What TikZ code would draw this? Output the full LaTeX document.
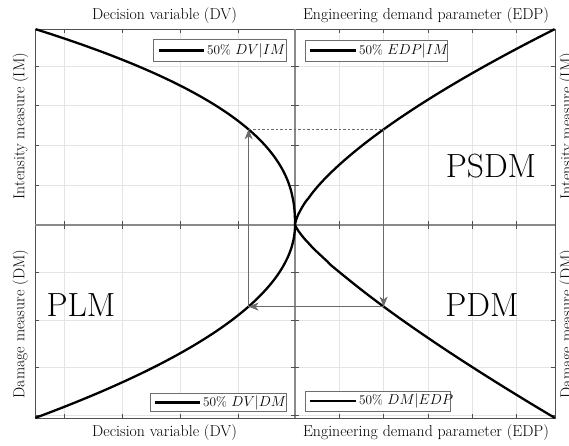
\documentclass[tikz,border=0pt]{standalone}
\usetikzlibrary{arrows.meta}
\definecolor{gridc}{HTML}{E4E4E4}
\definecolor{framec}{HTML}{505050}
\definecolor{axc}{HTML}{8A8A8A}
\definecolor{arrc}{HTML}{6A6A6A}
\definecolor{legc}{HTML}{6E6E6E}
\begin{document}
\begin{tikzpicture}[x=1pt,y=-1pt,
  gridline/.style={draw=gridc,line width=0.5pt},
  frameline/.style={draw=framec,line width=0.6pt},
  centerline/.style={draw=axc,line width=1.3pt},
  curve/.style={draw=black,line width=2.3pt},
  legline/.style={draw=black,line width=2.8pt},
  arr/.style={draw=arrc,line width=0.8pt,-{Stealth[length=10pt,width=8pt,inset=3pt]}},
  dashline/.style={draw=arrc,line width=0.6pt,dash pattern=on 2.5pt off 2pt},
  legbox/.style={draw=legc,fill=white,line width=0.6pt,inner sep=0pt},
  legtext/.style={anchor=west,inner sep=0pt,font=\fontsize{13.3}{15}\selectfont},
  axlabel/.style={inner sep=0pt,font=\fontsize{15.8}{18}\selectfont},
  biglabel/.style={inner sep=0pt,font=\fontsize{33.5}{38}\selectfont}]
\useasboundingbox (0,0) rectangle (569,445);
% grid
\foreach \gx in {64,122,180,238,339.5,383.6,428,472,516}
  \draw[gridline] (\gx,29) -- (\gx,418);
\foreach \gy in {66,105.5,145,185,272.5,320,367.5,415.5}
  \draw[gridline] (35,\gy) -- (555,\gy);
% frame
\draw[frameline] (35,29) rectangle (555,418);
% center lines
\draw[centerline] (35,225) -- (555,225);
\draw[centerline] (295,29) -- (295,418);
% ticks
\foreach \gy in {66,105.5,145,185,272.5,320,367.5,415.5}{
  \draw[frameline] (35,\gy) -- (39,\gy);
  \draw[frameline] (555,\gy) -- (551,\gy);
  \draw[frameline] (291,\gy) -- (299,\gy);
}
\foreach \gx in {64,122,180,238,339.5,383.6,428,472,516}{
  \draw[frameline] (\gx,29) -- (\gx,33);
  \draw[frameline] (\gx,418) -- (\gx,414);
  \draw[frameline] (\gx,221) -- (\gx,229);
}
% curves
\draw[curve] plot[domain=0.001:1,samples=90,variable=\t] ({295-260*(\t)^2.4},{225-196*\t});
\draw[curve] plot[domain=0.001:1,samples=90,variable=\t] ({295+260*(\t)^1.5},{225-196*\t});
\draw[curve] plot[domain=0.001:1,samples=90,variable=\t] ({295-260*(\t)^2},{225+193*\t});
\draw[curve] plot[domain=0.001:1,samples=90,variable=\t] ({295+260*\t},{225+193*(\t)^0.8});
% loop
\coordinate (pa) at (383.6,129.3);
\coordinate (pb) at (383.6,306.6);
\coordinate (pc) at (248.6,306.6);
\coordinate (pd) at (248.6,129.3);
\draw[dashline] (pd) -- (pa);
\draw[arr] (pa) -- (pb);
\draw[arr] (pb) -- (pc);
\draw[arr] (pc) -- (pd);
% legends
\node[legbox,minimum width=133pt,minimum height=22pt] (lg1) at (219.5,50.5) {};
\draw[legline] (159,50.5) -- (204,50.5);
\node[legtext] (lt1) at (207,50.5) {50\% $DV|IM$};
\node[legbox,minimum width=142pt,minimum height=21pt] (lg2) at (376,50.5) {};
\draw[legline] (310,50.5) -- (356,50.5);
\node[legtext] (lt2) at (359,50.5) {50\% $EDP|IM$};
\node[legbox,minimum width=136pt,minimum height=18pt] (lg3) at (218,402.5) {};
\draw[legline] (155,402.5) -- (200,402.5);
\node[legtext] (lt3) at (203,402.5) {50\% $DV|DM$};
\node[legbox,minimum width=145pt,minimum height=20pt] (lg4) at (377.5,401) {};
\draw[legline] (310,401) -- (356,401);
\node[legtext] (lt4) at (359,401) {50\% $DM|EDP$};
% axis labels
\node[axlabel] (xt1) at (164.5,16) {Decision variable (DV)};
\node[axlabel] (xt2) at (426,16) {Engineering demand parameter (EDP)};
\node[axlabel] (xb1) at (164.5,433) {Decision variable (DV)};
\node[axlabel] (xb2) at (426,433) {Engineering demand parameter (EDP)};
\node[axlabel,rotate=90] (yl1) at (20.5,126) {Intensity measure (IM)};
\node[axlabel,rotate=90] (yl2) at (20.5,324) {Damage measure (DM)};
\node[axlabel,rotate=90] (yr1) at (567.5,126) {Intensity measure (IM)};
\node[axlabel,rotate=90] (yr2) at (567.5,324) {Damage measure (DM)};
% big labels
\node[biglabel] (psdm) at (491,166) {PSDM};
\node[biglabel] (plm) at (81,305) {PLM};
\node[biglabel] (pdm) at (482,305) {PDM};
\end{tikzpicture}
\end{document}
